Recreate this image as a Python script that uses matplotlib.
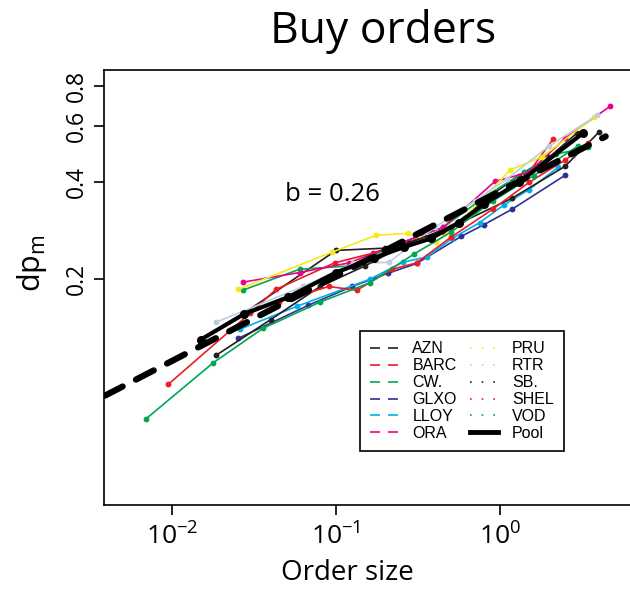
import numpy as np
import matplotlib
matplotlib.use('Agg')
import matplotlib.pyplot as plt
from matplotlib.lines import Line2D
from matplotlib.ticker import FixedLocator, NullLocator, FixedFormatter

plt.rcParams['font.family'] = ['Open Sans', 'DejaVu Sans']
plt.rcParams['mathtext.fontset'] = 'custom'
plt.rcParams['mathtext.rm'] = 'Open Sans'
plt.rcParams['mathtext.it'] = 'Open Sans:italic'

# stock names and colours
names = ['AZN', 'BARC', 'CW.', 'GLXO', 'LLOY', 'ORA',
         'PRU', 'RTR', 'SB.', 'SHEL', 'VOD']
colors = ['#231f20', '#ed1c24', '#00a651', '#2e3192', '#00aeef', '#ec008c',
          '#f7e81c', '#bccfe0', '#231f20', '#ed1c24', '#00a651']

# order size (x) and dp_m (y) per stock
x_azn = [0.027, 0.10, 0.20, 0.35, 0.55, 0.85, 1.3, 2.0, 2.95]
y_azn = [0.156, 0.246, 0.25, 0.27, 0.30, 0.36, 0.42, 0.48, 0.57]
x_barc = [0.0095, 0.030, 0.043, 0.098, 0.167, 0.256, 0.45, 0.8, 1.4, 2.1]
y_barc = [0.0944, 0.157, 0.186, 0.225, 0.241, 0.259, 0.28, 0.34, 0.41, 0.545]
x_cw = [0.027, 0.06, 0.12, 0.25, 0.45, 0.8, 1.4, 2.2, 3.44]
y_cw = [0.185, 0.215, 0.22, 0.26, 0.29, 0.36, 0.43, 0.49, 0.514]
x_glxo = [0.0253, 0.0676, 0.125, 0.208, 0.31, 0.58, 0.80, 1.18, 2.49]
y_glxo = [0.131, 0.166, 0.19, 0.209, 0.224, 0.272, 0.296, 0.33, 0.421]
x_lloy = [0.026, 0.058, 0.16, 0.256, 0.36, 0.51, 0.75, 1.05, 1.5, 2.26]
y_lloy = [0.14, 0.165, 0.20, 0.226, 0.235, 0.268, 0.30, 0.34, 0.38, 0.446]
x_ora = [0.0271, 0.06, 0.12, 0.25, 0.45, 0.93, 1.5, 2.5, 4.69]
y_ora = [0.196, 0.21, 0.225, 0.26, 0.29, 0.403, 0.43, 0.55, 0.69]
x_pru = [0.0253, 0.0946, 0.175, 0.275, 0.407, 0.57, 1.15, 1.8, 3.74]
y_pru = [0.186, 0.243, 0.274, 0.278, 0.261, 0.301, 0.437, 0.48, 0.637]
x_rtr = [0.0185, 0.063, 0.127, 0.21, 0.4, 0.7, 1.1, 2.0, 3.9]
y_rtr = [0.147, 0.19, 0.224, 0.226, 0.29, 0.35, 0.41, 0.52, 0.647]
x_sb = [0.0185, 0.04, 0.08, 0.15, 0.28, 0.5, 1.18, 2.49, 4.0]
y_sb = [0.116, 0.15, 0.19, 0.22, 0.26, 0.29, 0.357, 0.449, 0.573]
x_shel = [0.045, 0.09, 0.134, 0.22, 0.31, 0.5, 0.9, 1.5, 2.5, 3.44]
y_shel = [0.17, 0.19, 0.185, 0.215, 0.225, 0.27, 0.33, 0.40, 0.47, 0.529]
x_vod = [0.0069, 0.0178, 0.036, 0.08, 0.16, 0.3, 0.5, 0.9, 1.6, 3.0]
y_vod = [0.0735, 0.110, 0.141, 0.17, 0.195, 0.24, 0.28, 0.35, 0.42, 0.52]

xs = [x_azn, x_barc, x_cw, x_glxo, x_lloy, x_ora, x_pru, x_rtr, x_sb, x_shel, x_vod]
ys = [y_azn, y_barc, y_cw, y_glxo, y_lloy, y_ora, y_pru, y_rtr, y_sb, y_shel, y_vod]

# pooled data and fitted line (slope b = 0.26)
x_pool = [0.015, 0.0275, 0.051, 0.1, 0.17, 0.26, 0.38, 0.56, 0.80, 1.3, 3.2]
y_pool = [0.13, 0.156, 0.176, 0.21, 0.233, 0.252, 0.268, 0.30, 0.343, 0.40, 0.569]
x_fit = [0.0039, 4.4]
y_fit = [0.087, 0.556]

fig = plt.figure(figsize=(6.3, 5.89), dpi=100)
ax = fig.add_axes([0.165, 0.1426, 0.9, 0.738])

ax.plot(x_fit, y_fit, color='black', lw=4.5, dashes=(3.2, 2.4),
        dash_capstyle='round', zorder=3)

for xx, yy, c in zip(xs, ys, colors):
    ax.plot(xx, yy, color=c, lw=1.2, marker='o', ms=4.2, mec='none', zorder=2)

ax.plot(x_pool, y_pool, color='black', lw=3, marker='o', ms=6.5, mec='none', zorder=4)

ax.set_xscale('log')
ax.set_yscale('log')
ax.set_xlim(0.00385, 11.0)
ax.set_ylim(0.0398, 0.892)

ax.xaxis.set_major_locator(FixedLocator([0.01, 0.1, 1.0]))
ax.xaxis.set_minor_locator(NullLocator())
ax.yaxis.set_major_locator(FixedLocator([0.2, 0.4, 0.6, 0.8]))
ax.yaxis.set_major_formatter(FixedFormatter(['0.2', '0.4', '0.6', '0.8']))
ax.yaxis.set_minor_locator(NullLocator())
ax.tick_params(axis='both', length=7, width=1.2, pad=6)
ax.tick_params(axis='x', labelsize=19)
ax.tick_params(axis='y', labelsize=16.5, pad=4)
for lab in ax.get_yticklabels():
    lab.set_rotation(90)
    lab.set_va('center')
for sp in ax.spines.values():
    sp.set_linewidth(1.2)

fig.text(0.552, 0.027, 'Order size', fontsize=20, ha='center', va='center')
fig.text(0.051, 0.553, r'dp$_\mathregular{m}$', fontsize=22, rotation=90,
         ha='center', va='center')
fig.text(0.608, 0.946, 'Buy orders', fontsize=32, ha='center', va='center')
fig.text(0.527, 0.669, 'b = 0.26', fontsize=18.5, ha='center', va='center')

handles = []
for i, (n, c) in enumerate(zip(names, colors)):
    if i < 6:
        h = Line2D([], [], color=c, lw=1.2, dashes=(6, 4.8))
    else:
        h = Line2D([], [], color=c, lw=1.2, dashes=(1, 6))
    handles.append(h)
handles.append(Line2D([], [], color='black', lw=3.5))
labels = names + ['Pool']
leg = fig.legend(handles, labels, ncol=2, loc='upper left', bbox_to_anchor=(0.571, 0.438),
                 borderaxespad=0, frameon=True, fancybox=False, edgecolor='black',
                 framealpha=1, prop={'family': 'Liberation Sans', 'size': 11.5},
                 handlelength=1.75, handletextpad=0.9, columnspacing=0.8,
                 labelspacing=0.12, borderpad=0.65)
leg.get_frame().set_linewidth(1.2)

fig.savefig('out.png', dpi=100)
